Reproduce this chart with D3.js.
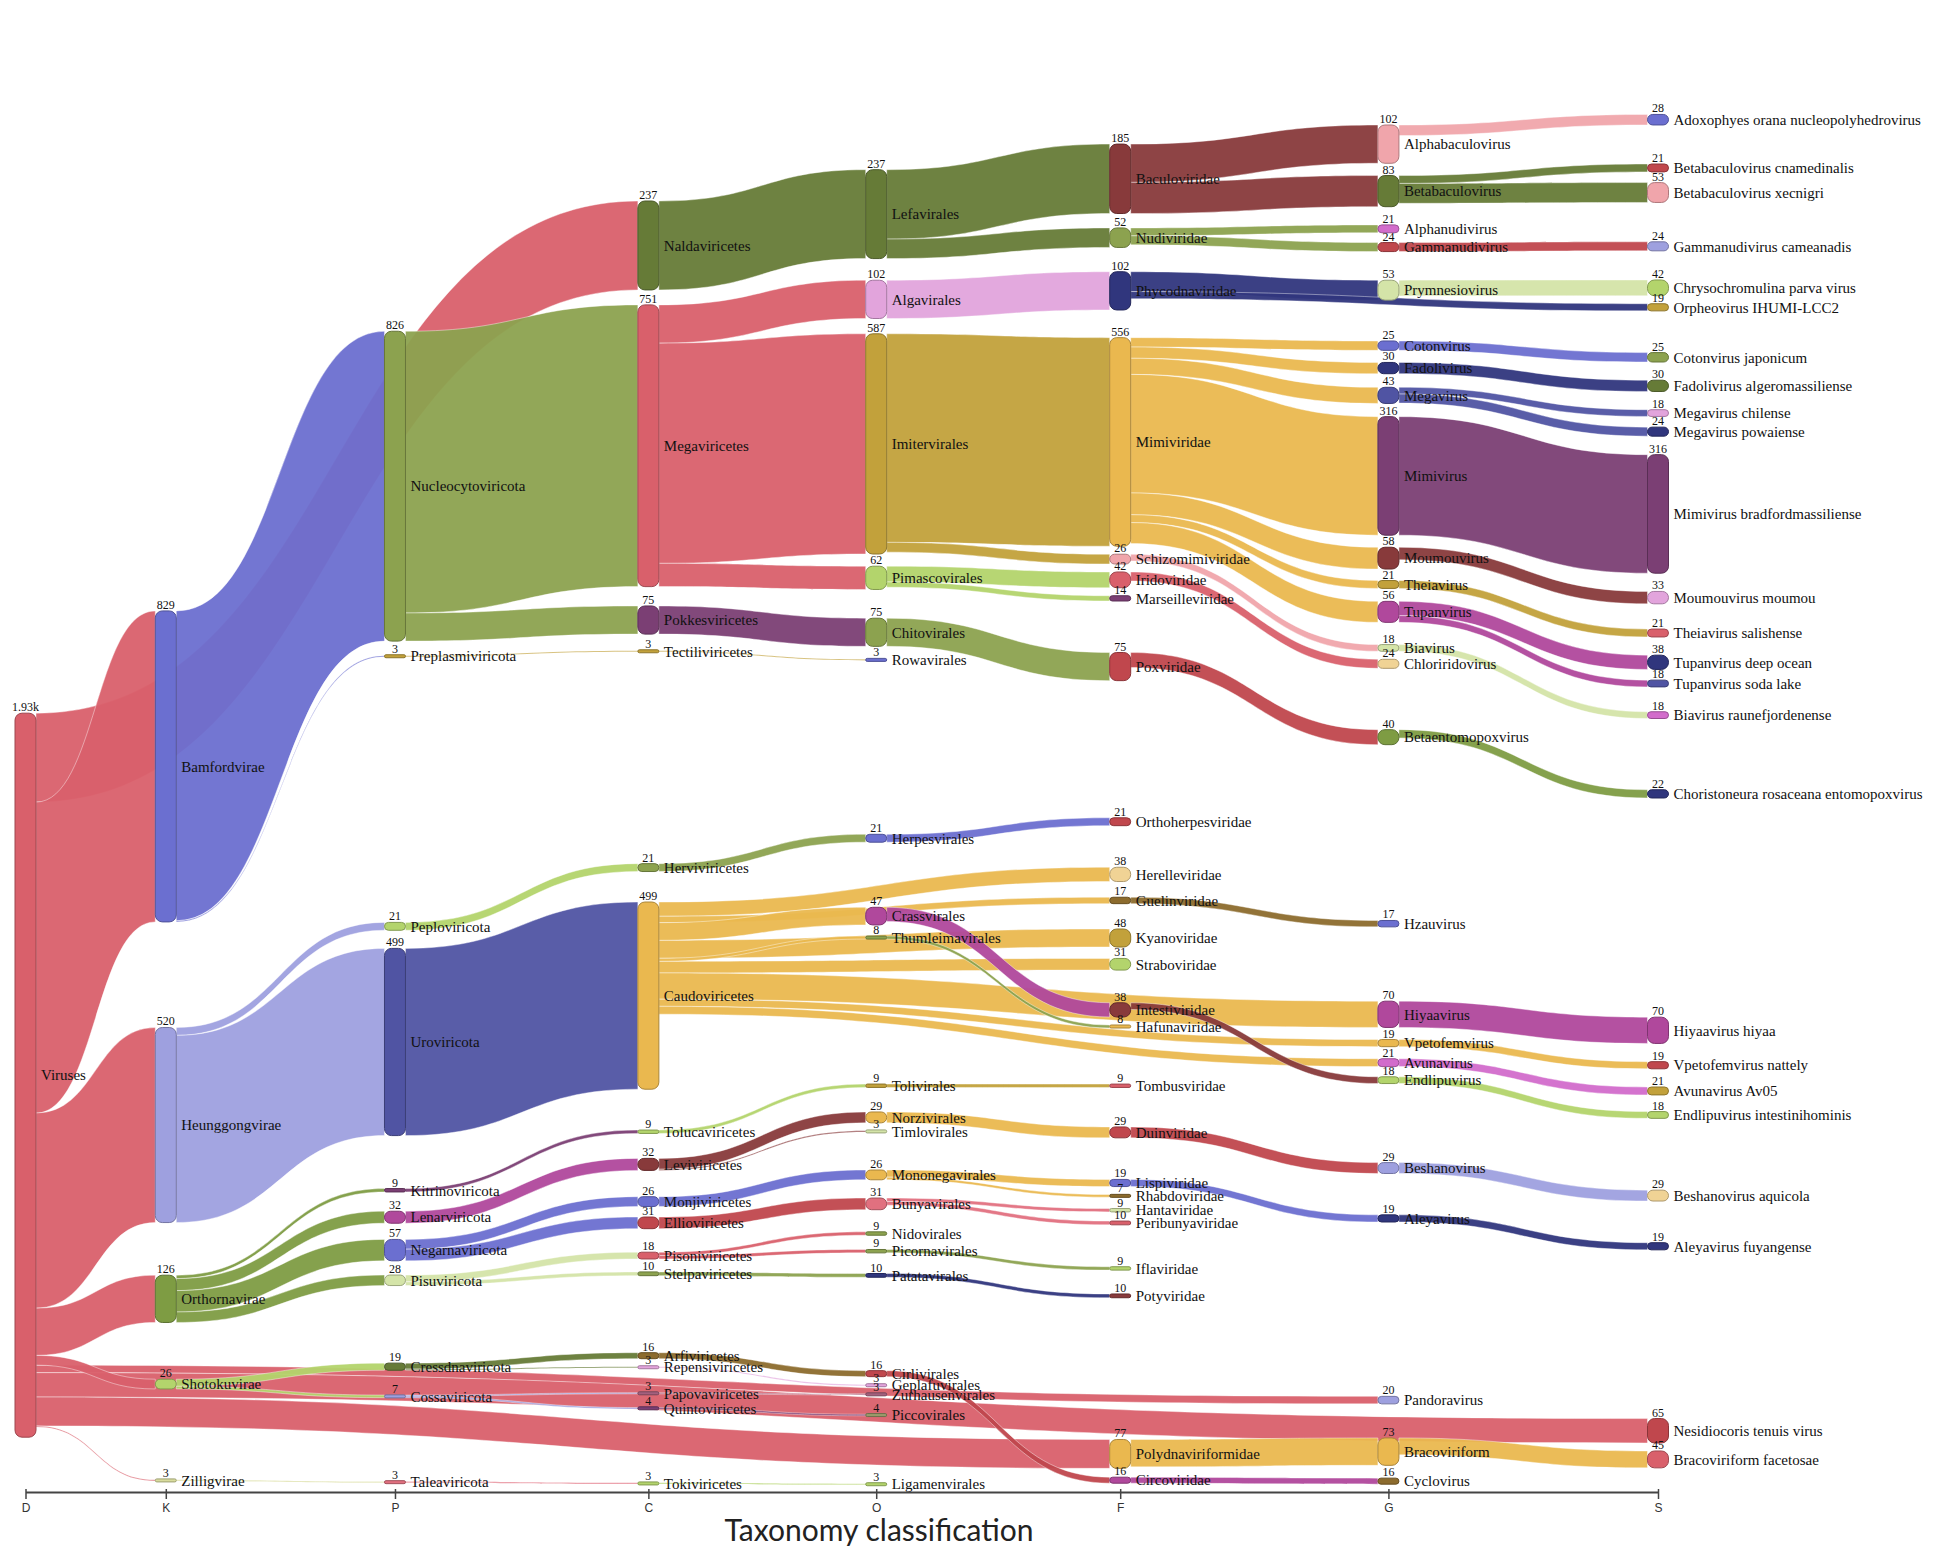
<!DOCTYPE html>
<html>
<head>
<meta charset="utf-8">
<script src="https://cdn.jsdelivr.net/npm/d3@7"></script>
<style>
  html, body { margin: 0; padding: 0; background: #ffffff; }
  svg { display: block; }
</style>
</head>
<body>
<script>
// ======================= DATA =======================
const ranks = ["D", "K", "P", "C", "O", "F", "G", "S"];
const taxaD = ["Viruses"];
const countsD = [1930];
const taxaK = ["Bamfordvirae", "Heunggongvirae", "Orthornavirae", "Shotokuvirae", "Zilligvirae"];
const countsK = [829, 520, 126, 26, 3];
const taxaP = ["Nucleocytoviricota", "Preplasmiviricota", "Peploviricota", "Uroviricota", "Kitrinoviricota",
  "Lenarviricota", "Negarnaviricota", "Pisuviricota", "Cressdnaviricota", "Cossaviricota", "Taleaviricota"];
const countsP = [826, 3, 21, 499, 9, 32, 57, 28, 19, 7, 3];
const taxaC = ["Naldaviricetes", "Megaviricetes", "Pokkesviricetes", "Tectiliviricetes", "Herviviricetes",
  "Caudoviricetes", "Tolucaviricetes", "Leviviricetes", "Monjiviricetes", "Ellioviricetes", "Pisoniviricetes",
  "Stelpaviricetes", "Arfiviricetes", "Repensiviricetes", "Papovaviricetes", "Quintoviricetes", "Tokiviricetes"];
const countsC = [237, 751, 75, 3, 21, 499, 9, 32, 26, 31, 18, 10, 16, 3, 3, 4, 3];
const taxaO = ["Lefavirales", "Algavirales", "Imitervirales", "Pimascovirales", "Chitovirales", "Rowavirales",
  "Herpesvirales", "Crassvirales", "Thumleimavirales", "Tolivirales", "Norzivirales", "Timlovirales",
  "Mononegavirales", "Bunyavirales", "Nidovirales", "Picornavirales", "Patatavirales", "Cirlivirales",
  "Geplafuvirales", "Zurhausenvirales", "Piccovirales", "Ligamenvirales"];
const countsO = [237, 102, 587, 62, 75, 3, 21, 47, 8, 9, 29, 3, 26, 31, 9, 9, 10, 16, 3, 3, 4, 3];
const taxaF = ["Baculoviridae", "Nudiviridae", "Phycodnaviridae", "Mimiviridae", "Schizomimiviridae",
  "Iridoviridae", "Marseilleviridae", "Poxviridae", "Orthoherpesviridae", "Herelleviridae", "Guelinviridae",
  "Kyanoviridae", "Straboviridae", "Intestiviridae", "Hafunaviridae", "Tombusviridae", "Duinviridae",
  "Lispiviridae", "Rhabdoviridae", "Hantaviridae", "Peribunyaviridae", "Iflaviridae", "Potyviridae",
  "Polydnaviriformidae", "Circoviridae"];
const countsF = [185, 52, 102, 556, 26, 42, 14, 75, 21, 38, 17, 48, 31, 38, 8, 9, 29, 19, 7, 9, 10, 9, 10, 77, 16];
const taxaG = ["Alphabaculovirus", "Betabaculovirus", "Alphanudivirus", "Gammanudivirus", "Prymnesiovirus",
  "Cotonvirus", "Fadolivirus", "Megavirus", "Mimivirus", "Moumouvirus", "Theiavirus", "Tupanvirus", "Biavirus",
  "Chloriridovirus", "Betaentomopoxvirus", "Hzauvirus", "Hiyaavirus", "Vpetofemvirus", "Avunavirus",
  "Endlipuvirus", "Beshanovirus", "Aleyavirus", "Pandoravirus", "Bracoviriform", "Cyclovirus"];
const countsG = [102, 83, 21, 24, 53, 25, 30, 43, 316, 58, 21, 56, 18, 24, 40, 17, 70, 19, 21, 18, 29, 19, 20, 73, 16];
const taxaS = ["Adoxophyes orana nucleopolyhedrovirus", "Betabaculovirus cnamedinalis", "Betabaculovirus xecnigri",
  "Gammanudivirus cameanadis", "Chrysochromulina parva virus", "Orpheovirus IHUMI-LCC2", "Cotonvirus japonicum",
  "Fadolivirus algeromassiliense", "Megavirus chilense", "Megavirus powaiense", "Mimivirus bradfordmassiliense",
  "Moumouvirus moumou", "Theiavirus salishense", "Tupanvirus deep ocean", "Tupanvirus soda lake",
  "Biavirus raunefjordenense", "Choristoneura rosaceana entomopoxvirus", "Hiyaavirus hiyaa",
  "Vpetofemvirus nattely", "Avunavirus Av05", "Endlipuvirus intestinihominis", "Beshanovirus aquicola",
  "Aleyavirus fuyangense", "Nesidiocoris tenuis virus", "Bracoviriform facetosae"];
const countsS = [28, 21, 53, 24, 42, 19, 25, 30, 18, 24, 316, 33, 21, 38, 18, 18, 22, 70, 19, 21, 18, 29, 19, 65, 45];

const linkSources = [
  "Viruses", "Viruses", "Viruses", "Viruses", "Viruses", "Viruses", "Viruses", "Viruses", "Viruses",
  "Bamfordvirae", "Bamfordvirae", "Heunggongvirae", "Heunggongvirae",
  "Orthornavirae", "Orthornavirae", "Orthornavirae", "Orthornavirae",
  "Shotokuvirae", "Shotokuvirae", "Zilligvirae",
  "Nucleocytoviricota", "Nucleocytoviricota", "Preplasmiviricota", "Peploviricota", "Uroviricota",
  "Kitrinoviricota", "Lenarviricota", "Negarnaviricota", "Negarnaviricota", "Pisuviricota", "Pisuviricota",
  "Cressdnaviricota", "Cressdnaviricota", "Cossaviricota", "Cossaviricota", "Taleaviricota",
  "Naldaviricetes", "Megaviricetes", "Megaviricetes", "Megaviricetes", "Pokkesviricetes", "Tectiliviricetes",
  "Herviviricetes",
  "Caudoviricetes", "Caudoviricetes", "Caudoviricetes", "Caudoviricetes", "Caudoviricetes", "Caudoviricetes",
  "Caudoviricetes", "Caudoviricetes", "Caudoviricetes",
  "Tolucaviricetes", "Leviviricetes", "Leviviricetes", "Monjiviricetes", "Ellioviricetes", "Pisoniviricetes",
  "Pisoniviricetes", "Stelpaviricetes", "Arfiviricetes", "Repensiviricetes", "Papovaviricetes", "Quintoviricetes",
  "Tokiviricetes",
  "Lefavirales", "Lefavirales", "Algavirales", "Imitervirales", "Imitervirales", "Pimascovirales", "Pimascovirales",
  "Chitovirales", "Herpesvirales", "Crassvirales", "Thumleimavirales", "Tolivirales", "Norzivirales",
  "Mononegavirales", "Mononegavirales", "Bunyavirales", "Bunyavirales", "Picornavirales", "Patatavirales",
  "Cirlivirales",
  "Baculoviridae", "Baculoviridae", "Nudiviridae", "Nudiviridae", "Phycodnaviridae", "Phycodnaviridae",
  "Mimiviridae", "Mimiviridae", "Mimiviridae", "Mimiviridae", "Mimiviridae", "Mimiviridae", "Mimiviridae",
  "Schizomimiviridae", "Iridoviridae", "Poxviridae", "Guelinviridae", "Intestiviridae", "Duinviridae",
  "Lispiviridae", "Polydnaviriformidae", "Circoviridae",
  "Alphabaculovirus", "Betabaculovirus", "Betabaculovirus", "Gammanudivirus", "Prymnesiovirus", "Cotonvirus",
  "Fadolivirus", "Megavirus", "Megavirus", "Mimivirus", "Moumouvirus", "Theiavirus", "Tupanvirus", "Tupanvirus",
  "Biavirus", "Betaentomopoxvirus", "Hiyaavirus", "Vpetofemvirus", "Avunavirus", "Endlipuvirus", "Beshanovirus",
  "Aleyavirus", "Bracoviriform"
];
const linkTargets = [
  "Naldaviricetes", "Bamfordvirae", "Heunggongvirae", "Pandoravirus", "Nesidiocoris tenuis virus",
  "Polydnaviriformidae", "Orthornavirae", "Shotokuvirae", "Zilligvirae",
  "Nucleocytoviricota", "Preplasmiviricota", "Peploviricota", "Uroviricota",
  "Kitrinoviricota", "Lenarviricota", "Negarnaviricota", "Pisuviricota",
  "Cressdnaviricota", "Cossaviricota", "Taleaviricota",
  "Megaviricetes", "Pokkesviricetes", "Tectiliviricetes", "Herviviricetes", "Caudoviricetes",
  "Tolucaviricetes", "Leviviricetes", "Monjiviricetes", "Ellioviricetes", "Pisoniviricetes", "Stelpaviricetes",
  "Arfiviricetes", "Repensiviricetes", "Papovaviricetes", "Quintoviricetes", "Tokiviricetes",
  "Lefavirales", "Algavirales", "Imitervirales", "Pimascovirales", "Chitovirales", "Rowavirales",
  "Herpesvirales",
  "Herelleviridae", "Guelinviridae", "Kyanoviridae", "Straboviridae", "Hiyaavirus", "Vpetofemvirus",
  "Avunavirus", "Crassvirales", "Thumleimavirales",
  "Tolivirales", "Norzivirales", "Timlovirales", "Mononegavirales", "Bunyavirales", "Nidovirales",
  "Picornavirales", "Patatavirales", "Cirlivirales", "Geplafuvirales", "Zurhausenvirales", "Piccovirales",
  "Ligamenvirales",
  "Baculoviridae", "Nudiviridae", "Phycodnaviridae", "Mimiviridae", "Schizomimiviridae", "Iridoviridae",
  "Marseilleviridae",
  "Poxviridae", "Orthoherpesviridae", "Intestiviridae", "Hafunaviridae", "Tombusviridae", "Duinviridae",
  "Lispiviridae", "Rhabdoviridae", "Hantaviridae", "Peribunyaviridae", "Iflaviridae", "Potyviridae",
  "Circoviridae",
  "Alphabaculovirus", "Betabaculovirus", "Alphanudivirus", "Gammanudivirus", "Prymnesiovirus",
  "Orpheovirus IHUMI-LCC2",
  "Cotonvirus", "Fadolivirus", "Megavirus", "Mimivirus", "Moumouvirus", "Theiavirus", "Tupanvirus",
  "Biavirus", "Chloriridovirus", "Betaentomopoxvirus", "Hzauvirus", "Endlipuvirus", "Beshanovirus",
  "Aleyavirus", "Bracoviriform", "Cyclovirus",
  "Adoxophyes orana nucleopolyhedrovirus", "Betabaculovirus cnamedinalis", "Betabaculovirus xecnigri",
  "Gammanudivirus cameanadis", "Chrysochromulina parva virus", "Cotonvirus japonicum",
  "Fadolivirus algeromassiliense", "Megavirus chilense", "Megavirus powaiense", "Mimivirus bradfordmassiliense",
  "Moumouvirus moumou", "Theiavirus salishense", "Tupanvirus deep ocean", "Tupanvirus soda lake",
  "Biavirus raunefjordenense", "Choristoneura rosaceana entomopoxvirus", "Hiyaavirus hiyaa",
  "Vpetofemvirus nattely", "Avunavirus Av05", "Endlipuvirus intestinihominis", "Beshanovirus aquicola",
  "Aleyavirus fuyangense", "Bracoviriform facetosae"
];
const linkValues = [
  237, 829, 520, 20, 65, 77, 126, 26, 3,
  826, 3, 21, 499,
  9, 32, 57, 28,
  19, 7, 3,
  751, 75, 3, 21, 499,
  9, 32, 26, 31, 18, 10,
  16, 3, 3, 4, 3,
  237, 102, 587, 62, 75, 3, 21,
  38, 17, 48, 31, 70, 19, 21, 47, 8,
  9, 29, 3, 26, 31, 9, 9, 10, 16, 3, 3, 4, 3,
  185, 52, 102, 556, 26, 42, 14,
  75, 21, 38, 8, 9, 29, 19, 7, 9, 10, 9, 10, 16,
  102, 83, 21, 24, 53, 19,
  25, 30, 43, 316, 58, 21, 56,
  18, 24, 40, 17, 18, 29, 19, 73, 16,
  28, 21, 53, 24, 42, 25, 30, 18, 24, 316, 33, 21, 38, 18, 18, 22, 70, 19, 21, 18, 29, 19, 45
];
const axisTitle = "Taxonomy classification";

// ======================= STYLE =======================
const C = {
  red: "#d9606b", darkOlive: "#667b37", olive: "#8ca24f", green: "#7e9c43", lightGreen: "#b3d46c",
  paleGreen: "#d4e4a8", blue: "#6b6fd0", lavender: "#9ea0df", slate: "#5054a3", navy: "#30367d",
  purple: "#7b3f74", magenta: "#b0489c", lilac: "#e2a4dc", lightPink: "#f0a5ab", darkRed: "#883a3b",
  brick: "#c0474d", gold: "#eab84f", mustard: "#c2a13b", tan: "#f0d395", brown: "#8c6b2d",
  pinkMag: "#d26ccb", pale: "#d9dc9d", mauve: "#a4607e", grayOlive: "#9a9a6a", salmon: "#e1707f"
};
const nodeColor = {
  "Viruses": C.red,
  "Bamfordvirae": C.blue, "Heunggongvirae": C.lavender, "Orthornavirae": C.green, "Shotokuvirae": C.lightGreen,
  "Zilligvirae": C.pale,
  "Nucleocytoviricota": C.olive, "Preplasmiviricota": C.mustard, "Peploviricota": C.lightGreen,
  "Uroviricota": C.slate, "Kitrinoviricota": C.purple, "Lenarviricota": C.magenta, "Negarnaviricota": C.blue,
  "Pisuviricota": C.paleGreen, "Cressdnaviricota": C.darkOlive, "Cossaviricota": C.lavender,
  "Taleaviricota": C.salmon,
  "Naldaviricetes": C.darkOlive, "Megaviricetes": C.red, "Pokkesviricetes": C.purple,
  "Tectiliviricetes": C.mustard, "Herviviricetes": C.olive, "Caudoviricetes": C.gold,
  "Tolucaviricetes": C.lightGreen, "Leviviricetes": C.darkRed, "Monjiviricetes": C.blue,
  "Ellioviricetes": C.brick, "Pisoniviricetes": C.red, "Stelpaviricetes": C.olive, "Arfiviricetes": C.brown,
  "Repensiviricetes": C.lilac, "Papovaviricetes": C.mauve, "Quintoviricetes": C.purple,
  "Tokiviricetes": C.lightGreen,
  "Lefavirales": C.darkOlive, "Algavirales": C.lilac, "Imitervirales": C.mustard, "Pimascovirales": C.lightGreen,
  "Chitovirales": C.olive, "Rowavirales": C.blue, "Herpesvirales": C.blue, "Crassvirales": C.magenta,
  "Thumleimavirales": C.olive, "Tolivirales": C.mustard, "Norzivirales": C.gold, "Timlovirales": C.paleGreen,
  "Mononegavirales": C.gold, "Bunyavirales": C.salmon, "Nidovirales": C.olive, "Picornavirales": C.olive,
  "Patatavirales": C.navy, "Cirlivirales": C.brick, "Geplafuvirales": C.lilac, "Zurhausenvirales": C.mauve,
  "Piccovirales": C.grayOlive, "Ligamenvirales": C.lightGreen,
  "Baculoviridae": C.darkRed, "Nudiviridae": C.olive, "Phycodnaviridae": C.navy, "Mimiviridae": C.gold,
  "Schizomimiviridae": C.lightPink, "Iridoviridae": C.red, "Marseilleviridae": C.purple, "Poxviridae": C.brick,
  "Orthoherpesviridae": C.brick, "Herelleviridae": C.tan, "Guelinviridae": C.brown, "Kyanoviridae": C.mustard,
  "Straboviridae": C.lightGreen, "Intestiviridae": C.darkRed, "Hafunaviridae": C.gold, "Tombusviridae": C.red,
  "Duinviridae": C.brick, "Lispiviridae": C.blue, "Rhabdoviridae": C.brown, "Hantaviridae": C.paleGreen,
  "Peribunyaviridae": C.red, "Iflaviridae": C.lightGreen, "Potyviridae": C.darkRed,
  "Polydnaviriformidae": C.gold, "Circoviridae": C.magenta,
  "Alphabaculovirus": C.lightPink, "Betabaculovirus": C.darkOlive, "Alphanudivirus": C.pinkMag,
  "Gammanudivirus": C.brick, "Prymnesiovirus": C.paleGreen, "Cotonvirus": C.blue, "Fadolivirus": C.navy,
  "Megavirus": C.slate, "Mimivirus": C.purple, "Moumouvirus": C.darkRed, "Theiavirus": C.mustard,
  "Tupanvirus": C.magenta, "Biavirus": C.paleGreen, "Chloriridovirus": C.tan, "Betaentomopoxvirus": C.green,
  "Hzauvirus": C.blue, "Hiyaavirus": C.magenta, "Vpetofemvirus": C.gold, "Avunavirus": C.pinkMag,
  "Endlipuvirus": C.lightGreen, "Beshanovirus": C.lavender, "Aleyavirus": C.navy, "Pandoravirus": C.lavender,
  "Bracoviriform": C.gold, "Cyclovirus": C.brown,
  "Adoxophyes orana nucleopolyhedrovirus": C.blue, "Betabaculovirus cnamedinalis": C.brick,
  "Betabaculovirus xecnigri": C.lightPink, "Gammanudivirus cameanadis": C.lavender,
  "Chrysochromulina parva virus": C.lightGreen, "Orpheovirus IHUMI-LCC2": C.mustard,
  "Cotonvirus japonicum": C.olive, "Fadolivirus algeromassiliense": C.darkOlive,
  "Megavirus chilense": C.lilac, "Megavirus powaiense": C.navy, "Mimivirus bradfordmassiliense": C.purple,
  "Moumouvirus moumou": C.lilac, "Theiavirus salishense": C.red, "Tupanvirus deep ocean": C.navy,
  "Tupanvirus soda lake": C.slate, "Biavirus raunefjordenense": C.pinkMag,
  "Choristoneura rosaceana entomopoxvirus": C.navy, "Hiyaavirus hiyaa": C.magenta,
  "Vpetofemvirus nattely": C.brick, "Avunavirus Av05": C.mustard, "Endlipuvirus intestinihominis": C.lightGreen,
  "Beshanovirus aquicola": C.tan, "Aleyavirus fuyangense": C.navy, "Nesidiocoris tenuis virus": C.brick,
  "Bracoviriform facetosae": C.red
};

const W = 1949, H = 1552;
const TOP = 20, BOTTOM = 1488;
const NODE_W = 21;
const LABEL_FONT = "15px 'Liberation Serif', 'Times New Roman', serif";
// generic sankey-relaxation settings
const LAYOUT = { pad: 8, wt: 1.5, wb: 0, aLR: 0.75, aRL: 0.25, iter: 1, lw: 2, ord: 1, lp: 0 };

// ======================= GRAPH =======================
const taxa = [taxaD, taxaK, taxaP, taxaC, taxaO, taxaF, taxaG, taxaS];
const counts = [countsD, countsK, countsP, countsC, countsO, countsF, countsG, countsS];

// column spacing grows with the widest label of the column on its left
const ctx = document.createElement("canvas").getContext("2d");
ctx.font = LABEL_FONT;
const maxLabelW = taxa.map(list => d3.max(list, n => ctx.measureText(n).width));
const rawX = [0];
for (let i = 0; i < ranks.length - 1; i++) rawX.push(rawX[i] + 65 + 1.55 * maxLabelW[i]);
const xLin = d3.scaleLinear().domain([0, rawX[rawX.length - 1]]).range([25.5, 1658]);
const xRank = d3.scaleOrdinal().domain(ranks).range(rawX.map(xLin));
const vScale = d3.scaleLinear().domain([0, d3.max(counts.flat())]).range([0, 724]);

function buildGraph() {
  const nodes = [];
  taxa.forEach((list, layer) => list.forEach((name, i) => nodes.push({
    name, layer, idx: i, count: counts[layer][i], sourceLinks: [], targetLinks: []
  })));
  const byName = new Map(nodes.map(n => [n.name, n]));
  const links = linkSources.map((s, i) => ({ source: byName.get(s), target: byName.get(linkTargets[i]), value: linkValues[i] }));
  links.forEach(l => { l.source.sourceLinks.push(l); l.target.targetLinks.push(l); });
  nodes.forEach(n => {
    n.value = Math.max(n.count, d3.sum(n.sourceLinks, l => l.value), d3.sum(n.targetLinks, l => l.value));
    n.h = vScale(n.value);
    const cx = xRank(ranks[n.layer]);
    n.x0 = cx - NODE_W / 2; n.x1 = cx + NODE_W / 2;
  });
  links.forEach(l => { l.width = vScale(l.value); });
  const columns = ranks.map((r, li) => nodes.filter(n => n.layer === li));
  return { nodes, links, columns };
}

// sankey relaxation with the data order kept inside each column
function layout(P) {
  const { nodes, links, columns } = buildGraph();
  const PAD = P.pad;
  const byT = (a, b) => a.target.y0 - b.target.y0, byS = (a, b) => a.source.y0 - b.source.y0;
  const reorderNode = n => { n.targetLinks.forEach(l => l.source.sourceLinks.sort(byT)); n.sourceLinks.forEach(l => l.target.targetLinks.sort(byS)); };
  const reorderAll = () => nodes.forEach(n => { n.sourceLinks.sort(byT); n.targetLinks.sort(byS); });
  const lwf = d => P.lw === 0 ? d : (P.lw === 1 ? 1 : 1 / d);
  function tTop(s, t) { let y = s.y0 - (s.sourceLinks.length - 1) * PAD / 2 * P.lp; for (const l of s.sourceLinks) { if (l.target === t) break; y += l.width + PAD * P.lp; } for (const l of t.targetLinks) { if (l.source === s) break; y -= l.width; } return y; }
  function sTop(s, t) { let y = t.y0 - (t.targetLinks.length - 1) * PAD / 2 * P.lp; for (const l of t.targetLinks) { if (l.source === s) break; y += l.width + PAD * P.lp; } for (const l of s.sourceLinks) { if (l.target === t) break; y -= l.width; } return y; }
  function down(c, y, i, a) { for (; i < c.length; ++i) { const n = c[i]; const dy = (y - n.y0) * a; if (dy > 1e-6) { n.y0 += dy; n.y1 += dy; } y = n.y1 + PAD; } }
  function up(c, y, i, a) { for (; i >= 0; --i) { const n = c[i]; const dy = (n.y1 - y) * a; if (dy > 1e-6) { n.y0 -= dy; n.y1 -= dy; } y = n.y0 - PAD; } }
  function resolve(c, a) { const i = c.length >> 1, s = c[i]; up(c, s.y0 - PAD, i - 1, a); down(c, s.y1 + PAD, i + 1, a); up(c, BOTTOM, c.length - 1, a); down(c, TOP, 0, a); }
  function LR(al, be) { for (let c = 1; c < columns.length; c++) { for (const t of columns[c]) { let y = 0, w = 0; for (const l of t.targetLinks) { const v = l.value * lwf(t.layer - l.source.layer); y += tTop(l.source, t) * v; w += v; } if (!(w > 0)) continue; const dy = (y / w - t.y0) * al; t.y0 += dy; t.y1 += dy; reorderNode(t); } resolve(columns[c], be); } }
  function RL(al, be) { for (let c = columns.length - 2; c >= 0; c--) { for (const s of columns[c]) { let y = 0, w = 0; for (const l of s.sourceLinks) { const v = l.value * lwf(l.target.layer - s.layer); y += sTop(s, l.target) * v; w += v; } if (!(w > 0)) continue; const dy = (y / w - s.y0) * al; s.y0 += dy; s.y1 += dy; reorderNode(s); } resolve(columns[c], be); } }
  columns.forEach(col => {
    let y = TOP; col.forEach(n => { n.y0 = y; n.y1 = y + n.h; y = n.y1 + PAD; });
    const ex = BOTTOM - y + PAD; const tot = P.wt + P.wb + (col.length - 1);
    col.forEach((n, i) => { const s = tot > 0 ? ex * (P.wt + i) / tot : ex / 2; n.y0 += s; n.y1 += s; });
  });
  reorderAll();
  for (let i = 0; i < P.iter; i++) {
    const d = Math.pow(0.99, i);
    const be = Math.max(1 - d, (i + 1) / P.iter);
    if (P.ord) { LR(P.aLR * d, be); RL(P.aRL * d, be); } else { RL(P.aRL * d, be); LR(P.aLR * d, be); }
  }
  columns.forEach(c => resolve(c, 1));
  reorderAll();
  nodes.forEach(n => {
    let a = n.y0, b = n.y0;
    n.sourceLinks.forEach(l => { l.sy = a; a += l.width; });
    n.targetLinks.forEach(l => { l.ty = b; b += l.width; });
  });
  return { nodes, links };
}
const { nodes, links } = layout(LAYOUT);

// ======================= DRAW =======================
const svg = d3.select("body").append("svg").attr("width", W).attr("height", H).attr("viewBox", `0 0 ${W} ${H}`);
svg.append("rect").attr("width", W).attr("height", H).attr("fill", "#ffffff");

function bandPath(l) {
  const x0 = l.source.x1, x1 = l.target.x0, xm = (x0 + x1) / 2;
  const a0 = l.sy, a1 = l.ty, b0 = l.sy + l.width, b1 = l.ty + l.width;
  return `M${x0},${a0}C${xm},${a0} ${xm},${a1} ${x1},${a1}L${x1},${b1}C${xm},${b1} ${xm},${b0} ${x0},${b0}Z`;
}
const sortedLinks = links.slice().sort((a, b) => a.source.layer - b.source.layer);
svg.append("g").attr("class", "links").selectAll("path").data(sortedLinks).join("path")
  .attr("d", bandPath)
  .attr("fill", d => nodeColor[d.source.name])
  .attr("fill-opacity", 0.95)
  .attr("stroke", "#ffffff").attr("stroke-opacity", 0.7).attr("stroke-width", 0.6);

const visH = d => Math.max(d.y1 - d.y0, 3);
svg.append("g").attr("class", "nodes").selectAll("rect").data(nodes).join("rect")
  .attr("x", d => d.x0)
  .attr("y", d => (d.y0 + d.y1) / 2 - visH(d) / 2)
  .attr("width", NODE_W).attr("height", visH)
  .attr("rx", d => Math.min(7, visH(d) / 2)).attr("ry", d => Math.min(7, visH(d) / 2))
  .attr("fill", d => nodeColor[d.name])
  .attr("stroke", d => d3.color(nodeColor[d.name]).darker(0.9)).attr("stroke-width", 1);

const fmt = v => v >= 1000 ? d3.format(".3s")(v) : String(v);
svg.append("g").attr("class", "values").selectAll("text").data(nodes).join("text")
  .attr("x", d => (d.x0 + d.x1) / 2)
  .attr("y", d => (d.y0 + d.y1) / 2 - visH(d) / 2 - 2)
  .attr("text-anchor", "middle")
  .attr("font-family", "'Liberation Serif', 'Times New Roman', serif")
  .attr("font-size", 12).attr("fill", "#111")
  .text(d => fmt(d.count));

svg.append("g").attr("class", "labels").selectAll("text").data(nodes).join("text")
  .attr("x", d => d.x1 + 5).attr("y", d => (d.y0 + d.y1) / 2).attr("dy", "0.35em")
  .attr("font-family", "'Liberation Serif', 'Times New Roman', serif")
  .attr("font-size", 15).attr("fill", "#111")
  .text(d => d.name);

const gAxis = svg.append("g").attr("transform", "translate(0,1492)")
  .call(d3.axisBottom(xRank).tickSizeInner(7).tickSizeOuter(0).tickPadding(4));
gAxis.select(".domain").attr("stroke", "#444").attr("stroke-width", 2);
gAxis.selectAll(".tick line").attr("stroke", "#444").attr("stroke-width", 1.5).attr("y1", -3);
gAxis.selectAll(".tick text").attr("font-family", "'Liberation Sans', Arial, sans-serif")
  .attr("font-size", 12).attr("fill", "#333");

svg.append("text").attr("x", 879).attr("y", 1541).attr("text-anchor", "middle")
  .attr("font-family", "Lato, 'Open Sans', sans-serif").attr("font-size", 30).attr("fill", "#222")
  .text(axisTitle);
</script>
</body>
</html>
